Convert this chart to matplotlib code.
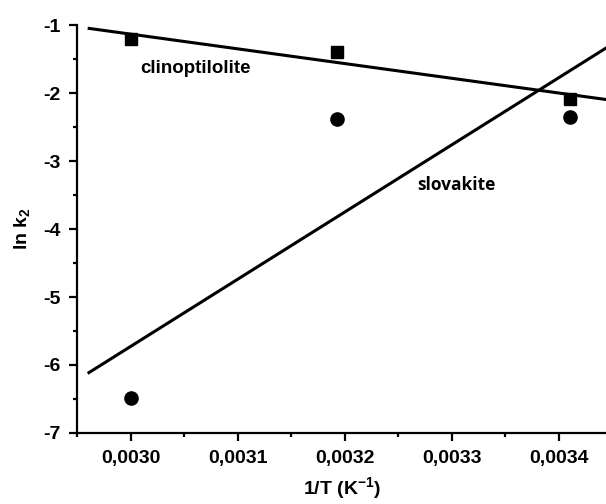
import numpy as np
import matplotlib
matplotlib.use("Agg")
import matplotlib.pyplot as plt
from matplotlib.ticker import MultipleLocator, FuncFormatter

# data
inv_T = [0.0030, 0.003193, 0.00341]
clino_lnk2 = [-1.21, -1.40, -2.09]
slovak_lnk2 = [-6.49, -2.38, -2.35]
fit_range = [0.00296, 0.00346]

plt.rcParams['font.family'] = ['Liberation Sans', 'DejaVu Sans']
plt.rcParams['font.weight'] = 'bold'
plt.rcParams['mathtext.fontset'] = 'custom'
plt.rcParams['mathtext.rm'] = 'Liberation Sans:bold'
plt.rcParams['mathtext.default'] = 'rm'

fig = plt.figure(figsize=(6.06, 5.04), dpi=100)
ax = fig.add_axes([0.127, 0.141, 0.873, 0.809])

# linear fits
xf = np.array(fit_range)
for y in (clino_lnk2, slovak_lnk2):
    k, b = np.polyfit(inv_T, y, 1)
    ax.plot(xf, k * xf + b, color='black', linewidth=2.2, solid_capstyle='butt', clip_on=False)

ax.plot(inv_T, clino_lnk2, 's', color='black', markersize=8.5, zorder=3)
ax.plot(inv_T, slovak_lnk2, 'o', color='black', markersize=9.5, zorder=3)

ax.text(0.003009, -1.63, 'clinoptilolite', fontsize=13.5, fontweight='bold', va='center', ha='left')
ax.text(0.003268, -3.35, 'slovakite', fontsize=12.5, fontweight='bold', va='center', ha='left',
        family=['Open Sans', 'DejaVu Sans'])

ax.set_xlim(0.00295, 0.003444)
ax.set_ylim(-7, -1)
ax.xaxis.set_major_locator(MultipleLocator(0.0001))
ax.xaxis.set_minor_locator(MultipleLocator(0.00005))
ax.yaxis.set_major_locator(MultipleLocator(1))
ax.yaxis.set_minor_locator(MultipleLocator(0.5))
ax.xaxis.set_major_formatter(FuncFormatter(lambda v, p: f"{v:.4f}".replace('.', ',')))
ax.yaxis.set_major_formatter(FuncFormatter(lambda v, p: f"{v:.0f}".replace('\u2212', '-')))

for s in ('top', 'right'):
    ax.spines[s].set_visible(False)
for s in ('left', 'bottom'):
    ax.spines[s].set_linewidth(1.6)

ax.tick_params(which='major', direction='out', length=6, width=1.6, labelsize=14, pad=6)
ax.tick_params(which='minor', direction='out', length=3, width=1.6)
for lab in ax.get_xticklabels() + ax.get_yticklabels():
    lab.set_fontweight('bold')

ax.set_xlabel('1/T (K$^{-1}$)', fontsize=14, fontweight='bold', labelpad=6)
ax.set_ylabel('ln k$_{2}$', fontsize=14, fontweight='bold', labelpad=8)

fig.savefig('out.png', dpi=100)
